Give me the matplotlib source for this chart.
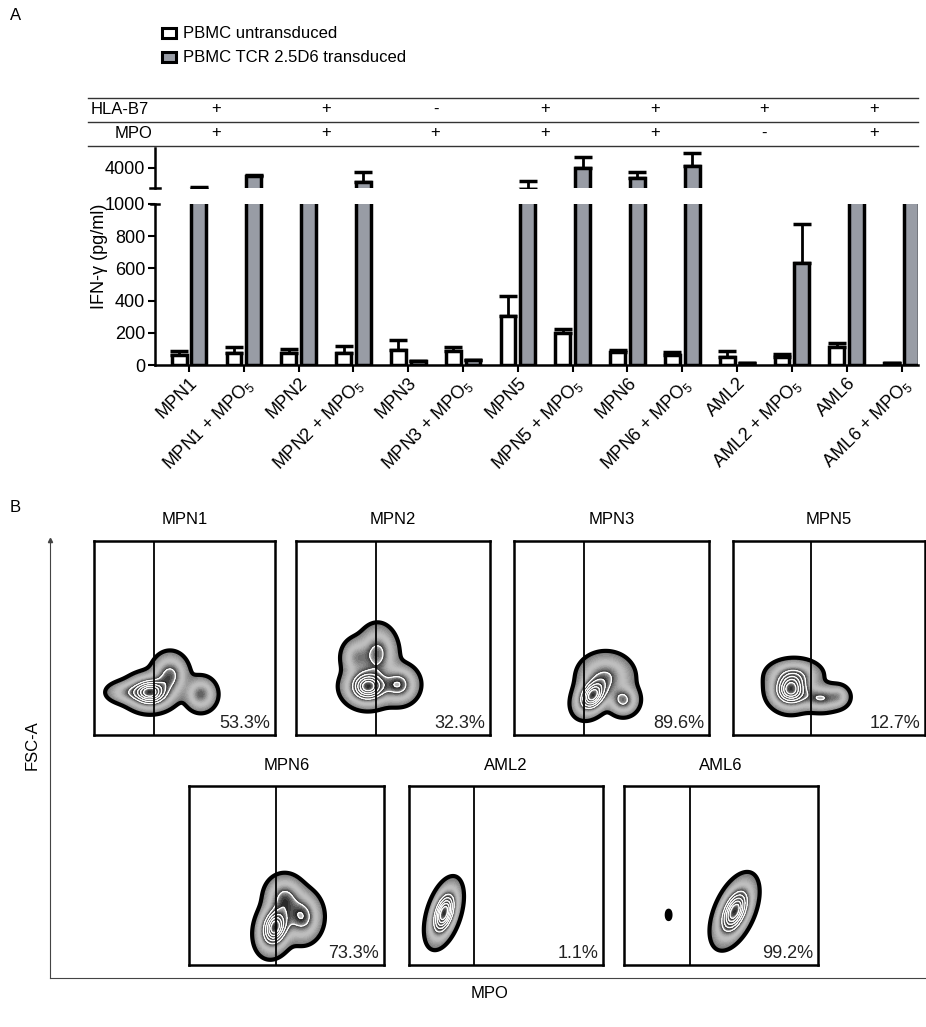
import numpy as np
import matplotlib
matplotlib.use('Agg')
import matplotlib.pyplot as plt
from matplotlib.lines import Line2D
from matplotlib.patches import Rectangle

plt.rcParams['font.family'] = ['Liberation Sans', 'DejaVu Sans']
plt.rcParams['mathtext.default'] = 'regular'

# Panel A data (IFN-gamma, pg/ml)
samples = ['MPN1', 'MPN1 + MPO$_5$', 'MPN2', 'MPN2 + MPO$_5$',
           'MPN3', 'MPN3 + MPO$_5$', 'MPN5', 'MPN5 + MPO$_5$',
           'MPN6', 'MPN6 + MPO$_5$', 'AML2', 'AML2 + MPO$_5$',
           'AML6', 'AML6 + MPO$_5$']
untransduced = [62, 75, 75, 75, 93, 87, 305, 200, 80, 62, 50, 50, 112, 10]
untransduced_err = [25, 37, 25, 43, 62, 25, 125, 25, 13, 20, 37, 18, 25, 0]
transduced = [1950, 3200, 1500, 2600, 25, 30, 1900, 4000, 3000, 4200, 10, 634, 1500, 1500]
transduced_err = [170, 100, 200, 1000, 0, 0, 800, 1100, 600, 1300, 0, 242, 200, 200]
hla_b7 = ['+', '+', '-', '+', '+', '+', '+']
mpo_status = ['+', '+', '+', '+', '+', '-', '+']

# Panel B data: flow populations as gaussian blobs (cx, cy, sx, sy, weight, rho)
flow_names = ['MPN1', 'MPN2', 'MPN3', 'MPN5', 'MPN6', 'AML2', 'AML6']
flow_pct = ['53.3%', '32.3%', '89.6%', '12.7%', '73.3%', '1.1%', '99.2%']
flow_gate = [0.33, 0.41, 0.36, 0.405, 0.445, 0.335, 0.34]
blobs_mpn1 = [(0.31, 0.22, 0.065, 0.045, 1.0, 0.0), (0.42, 0.31, 0.05, 0.055, 0.5, 0.0),
              (0.59, 0.21, 0.045, 0.045, 0.4, 0.0), (0.18, 0.22, 0.06, 0.03, 0.25, 0.0)]
blobs_mpn2 = [(0.37, 0.25, 0.06, 0.05, 1.0, 0.0), (0.53, 0.26, 0.05, 0.05, 0.55, 0.0),
              (0.42, 0.42, 0.05, 0.07, 0.5, 0.0), (0.31, 0.40, 0.04, 0.05, 0.3, 0.0)]
blobs_mpn3 = [(0.40, 0.20, 0.045, 0.05, 1.0, 0.3), (0.56, 0.18, 0.04, 0.04, 0.5, 0.0),
              (0.47, 0.30, 0.07, 0.06, 0.45, 0.0)]
blobs_mpn5 = [(0.30, 0.23, 0.055, 0.05, 1.0, 0.0), (0.46, 0.19, 0.06, 0.035, 0.45, 0.0),
              (0.32, 0.31, 0.07, 0.04, 0.4, 0.0), (0.55, 0.20, 0.03, 0.03, 0.2, 0.0)]
blobs_mpn6 = [(0.44, 0.21, 0.045, 0.07, 1.0, 0.2), (0.58, 0.27, 0.05, 0.07, 0.55, 0.0),
              (0.49, 0.38, 0.05, 0.06, 0.45, 0.0)]
blobs_aml2 = [(0.18, 0.29, 0.04, 0.08, 1.0, 0.45)]
blobs_aml6 = [(0.57, 0.30, 0.05, 0.085, 1.0, 0.5), (0.23, 0.28, 0.008, 0.02, 0.07, 0.0)]
flow_blobs = [blobs_mpn1, blobs_mpn2, blobs_mpn3, blobs_mpn5,
              blobs_mpn6, blobs_aml2, blobs_aml6]

W, H = 926, 1027
GRAY = '#989ca5'
fig = plt.figure(figsize=(W / 100, H / 100), dpi=100)


def px_axes(l, t, r, b):
    return fig.add_axes([l / W, 1 - b / H, (r - l) / W, (b - t) / H])


def fx(x):
    return x / W


def fy(y):
    return 1 - y / H


# ---------- Panel A ----------
fig.text(fx(10), fy(15), 'A', fontsize=12, va='center')
for i, (lab, fc) in enumerate([('PBMC untransduced', 'white'),
                               ('PBMC TCR 2.5D6 transduced', GRAY)]):
    yc = 33 + 24 * i
    fig.patches.append(Rectangle((fx(162), fy(yc + 5)), fx(14), 10 / H,
                                 facecolor=fc, edgecolor='black', lw=2.2,
                                 transform=fig.transFigure))
    fig.text(fx(183), fy(yc), lab, fontsize=12, va='center')

for yl in (98, 122, 146):
    fig.lines.append(Line2D([fx(88), fx(918)], [fy(yl), fy(yl)], color='#333333',
                            lw=1, transform=fig.transFigure))
fig.text(fx(91), fy(110), 'HLA-B7', fontsize=12, va='center')
fig.text(fx(115), fy(134), 'MPO', fontsize=12, va='center')

x = np.arange(len(samples))
tick0, step = 189, 54.8
for k in range(len(hla_b7)):
    xc = tick0 + step * (2 * k + 0.5)
    fig.text(fx(xc), fy(109), hla_b7[k], fontsize=12, ha='center', va='center')
    fig.text(fx(xc), fy(133), mpo_status[k], fontsize=12, ha='center', va='center')

ax_lo = px_axes(155, 204, 918, 365)
ax_hi = px_axes(155, 148, 918, 188)
zeros = np.zeros(len(x))
for ax in (ax_lo, ax_hi):
    ax.bar(x - 0.18, untransduced, 0.27, color='white', edgecolor='black', lw=2.5, zorder=2)
    ax.bar(x + 0.18, transduced, 0.27, color=GRAY, edgecolor='black', lw=2.5, zorder=2)
    ax.errorbar(x - 0.18, untransduced, yerr=[zeros, untransduced_err], fmt='none',
                ecolor='black', elinewidth=2, capsize=6.5, capthick=2.5, zorder=1)
    ax.errorbar(x + 0.18, transduced, yerr=[zeros, transduced_err], fmt='none',
                ecolor='black', elinewidth=2, capsize=6.5, capthick=2.5, zorder=1)
    ax.set_xlim(-0.62, 13.3)
    for s in ('top', 'right'):
        ax.spines[s].set_visible(False)
    for s in ('left', 'bottom'):
        ax.spines[s].set_linewidth(1.8)
    ax.tick_params(width=1.5, length=5, labelsize=13, pad=2)

ax_lo.set_ylim(0, 1000)
ax_lo.set_yticks(np.arange(0, 1001, 200))
ax_lo.set_xticks(x)
ax_lo.set_xticklabels(samples, rotation=45, ha='right', rotation_mode='anchor',
                      fontsize=13)
ax_hi.set_ylim(2000, 6000)
ax_hi.set_yticks([4000])
ax_hi.set_xticks([])
ax_hi.spines['bottom'].set_visible(False)
# break marks
ax_hi.plot([-0.007, 0.007], [0, 0], transform=ax_hi.transAxes, color='black',
           lw=1.8, clip_on=False)
ax_lo.plot([-0.005, 0.005], [1, 1], transform=ax_lo.transAxes, color='black',
           lw=1.8, clip_on=False)
fig.text(fx(99), fy(256), 'IFN-γ (pg/ml)', fontsize=13, rotation=90,
         ha='center', va='center')

# ---------- Panel B ----------
fig.text(fx(10), fy(508), 'B', fontsize=12, va='center')
ax_b = px_axes(50, 540, 926, 978)
ax_b.set_xticks([])
ax_b.set_yticks([])
for s in ('top', 'right'):
    ax_b.spines[s].set_visible(False)
for s in ('left', 'bottom'):
    ax_b.spines[s].set_linewidth(0.8)
    ax_b.spines[s].set_color('#444444')
ax_b.plot([0], [1], marker='^', color='#444444', markersize=3,
          transform=ax_b.transAxes, clip_on=False)
ax_b.patch.set_alpha(0)
fig.text(fx(32), fy(745), 'FSC-A', fontsize=12, rotation=90, ha='center', va='center')
fig.text(fx(490), fy(994), 'MPO', fontsize=12, ha='center', va='center')

boxes = [(94, 541, 275, 735), (296, 541, 490, 735), (514, 541, 709, 735),
         (733, 541, 925, 735), (189, 786, 384, 965), (409, 786, 603, 965),
         (624, 786, 818, 965)]

# zebra shading: smooth outer band, then banded rings near the peak
gx, gy = np.meshgrid(np.linspace(0, 1, 400), np.linspace(0, 1, 400))
bands = [0.035, 0.42, 0.56, 0.69, 0.80, 0.90, 1.01]
levels, colors = [], []
for bi, (b0, b1) in enumerate(zip(bands[:-1], bands[1:])):
    n = 24 if bi == 0 else 8
    sub = np.linspace(b0, b1, n + 1)[:-1]
    for j, lv in enumerate(sub):
        levels.append(lv)
        if bi == 0:
            g = 0.45 + 0.35 * np.sin(np.pi * j / n) - 0.25 * (j / n) ** 2
        else:
            g = 0.72 - 0.55 * j / (n - 1)
        colors.append((g, g, g))
levels.append(bands[-1])


def density(blobs):
    Z = np.zeros_like(gx)
    for cx, cy, sx, sy, w, rho in blobs:
        dx = (gx - cx) / sx
        dy = (gy - cy) / sy
        Z += w * np.exp(-(dx ** 2 - 2 * rho * dx * dy + dy ** 2) / (2 * (1 - rho ** 2)))
    return Z / Z.max()


for name, pct, gate, blobs, (l, t, r, b) in zip(flow_names, flow_pct, flow_gate,
                                                flow_blobs, boxes):
    ax = px_axes(l, t, r, b)
    Z = density(blobs)
    ax.contourf(gx, gy, Z, levels=levels, colors=colors)
    ax.contour(gx, gy, Z, levels=bands[1:-1], colors='white', linewidths=0.9)
    ax.contour(gx, gy, Z, levels=[bands[0]], colors='black', linewidths=3)
    ax.axvline(gate, color='black', lw=1.3)
    ax.set_xlim(0, 1)
    ax.set_ylim(0, 1)
    ax.set_xticks([])
    ax.set_yticks([])
    for s in ax.spines.values():
        s.set_linewidth(1.8)
    ax.text(0.975, 0.015, pct, transform=ax.transAxes, ha='right', va='bottom',
            fontsize=13, color='#222222')
    fig.text(fx((l + r) / 2), fy(t - 21), name, fontsize=12, ha='center', va='center')

fig.savefig('out.png', dpi=100)
